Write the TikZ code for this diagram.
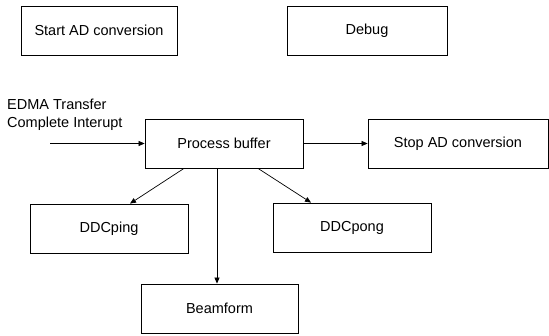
\documentclass[tikz,border=0pt]{standalone}
\usepackage{fontspec}
\setmainfont{Liberation Sans}
\usetikzlibrary{arrows.meta}
\begin{document}
\begin{tikzpicture}[x=1pt, y=-1pt, font=\fontsize{14.5}{18}\selectfont,
  box/.style={draw, line width=0.8pt, minimum height=49pt, inner sep=0pt},
  arr/.style={-{Triangle[length=6pt,width=5pt]}, line width=0.7pt}]
  \useasboundingbox (0,0) rectangle (549,336);
  \node[box, minimum width=156pt] (start) at (99,30.5) {Start AD conversion};
  \node[box, minimum width=160pt] (debug) at (367,30.5) {Debug};
  \node[box, minimum width=158pt] (proc) at (224,143.5) {Process buffer};
  \node[box, minimum width=180pt] (stop) at (458,143.5) {Stop AD conversion};
  \node[box, minimum width=158pt] (ping) at (109,228.5) {DDCping};
  \node[box, minimum width=158pt] (pong) at (352,227.5) {DDCpong};
  \node[box, minimum width=157pt] (beam) at (219.5,308.5) {Beamform};
  % interrupt input
  \node[anchor=west, align=left, inner sep=0pt] (irq) at (7,115) {EDMA Transfer\\Complete Interupt};
  \coordinate (in) at (50,143.5);
  \draw[arr] (in) -- (proc.west);
  \draw[arr] (proc.east) -- (stop.west);
  \draw[arr] ([xshift=-40pt]proc.south) -- ([xshift=21pt]ping.north);
  \draw[arr] ([xshift=-7pt]proc.south) -- ([xshift=-2.5pt]beam.north);
  \draw[arr] ([xshift=34pt]proc.south) -- ([xshift=-41pt]pong.north);
\end{tikzpicture}
\end{document}
